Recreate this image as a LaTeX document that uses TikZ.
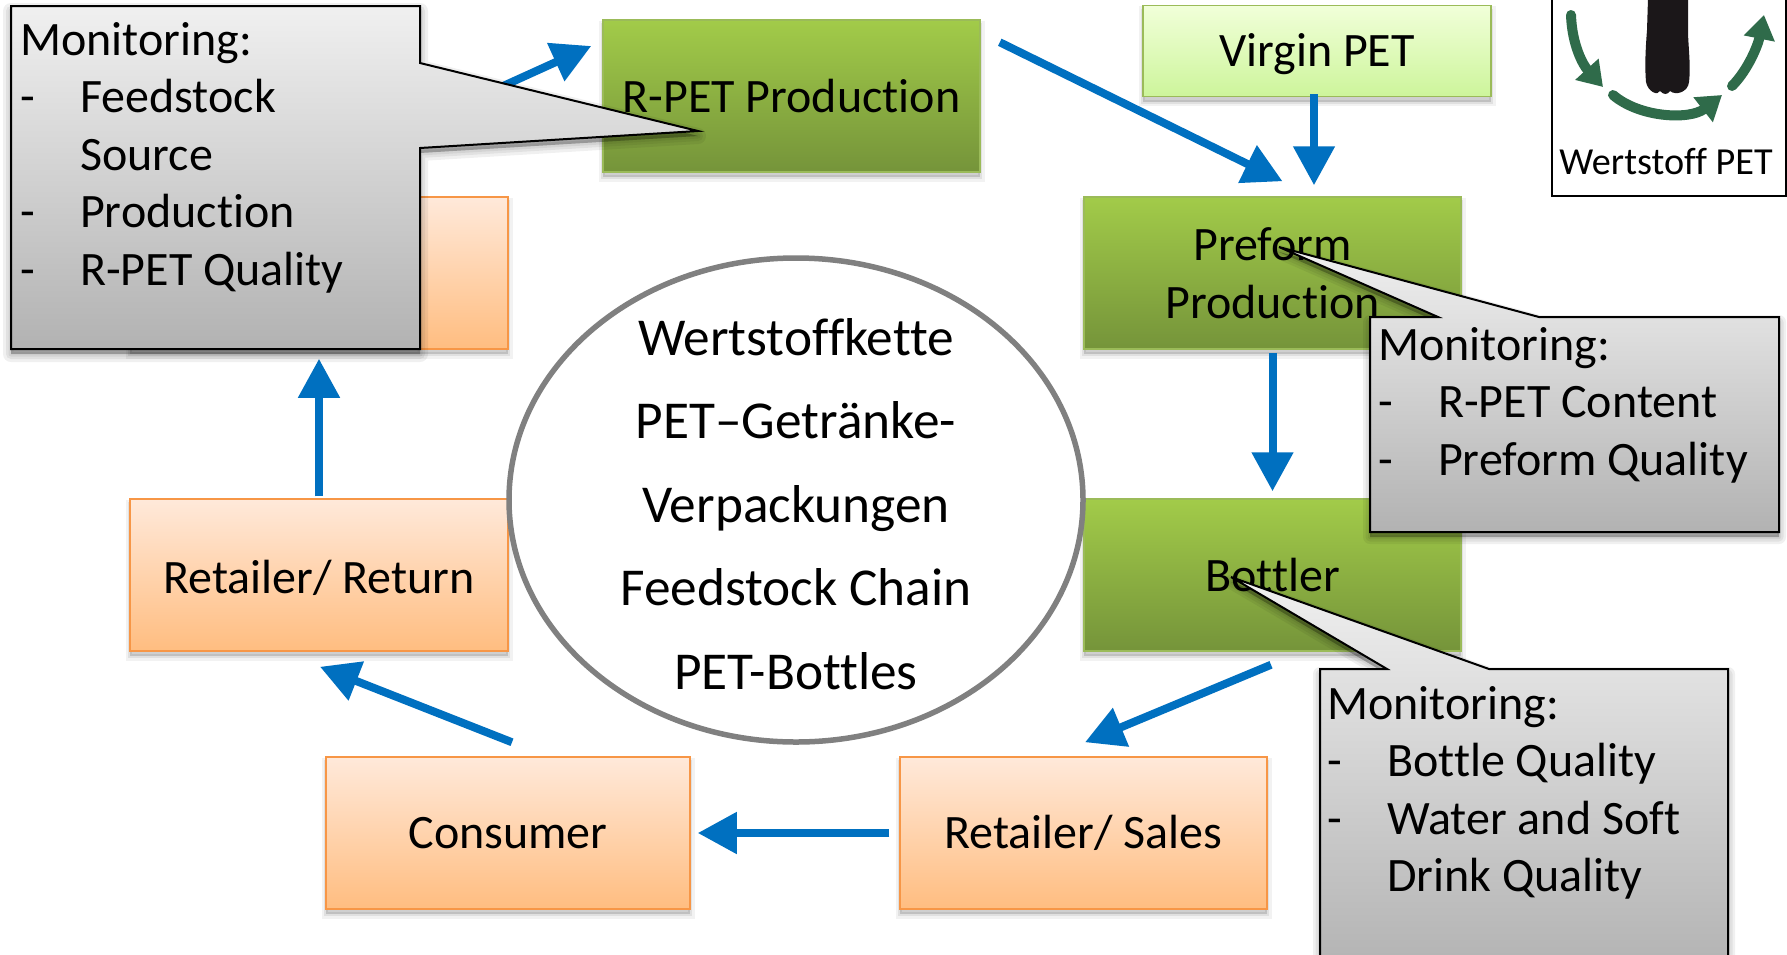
\documentclass[tikz,border=0pt]{standalone}
\usepackage{fontspec}
\setmainfont[Ligatures=NoCommon,Contextuals=NoAlternate]{Carlito}
\usetikzlibrary{arrows.meta,shapes.geometric}
\definecolor{flowblue}{HTML}{0070C0}
\definecolor{logogreen}{HTML}{2F6B4A}
\definecolor{logoblack}{HTML}{1B1719}
\definecolor{greenedge}{HTML}{9BBB59}
\definecolor{orangeedge}{HTML}{F79646}
\definecolor{greentop}{HTML}{A2CB49}\definecolor{greenbot}{HTML}{75943A}
\definecolor{lighttop}{HTML}{F1FFD9}\definecolor{lightbot}{HTML}{CDF59B}
\definecolor{orangetop}{HTML}{FFE9DA}\definecolor{orangebot}{HTML}{FFBD80}
\definecolor{graytop}{HTML}{F0F0F0}\definecolor{graybot}{HTML}{B2B2B2}
\newcommand{\dashitem}[1]{\makebox[60pt][l]{-}#1}
\tikzset{
  softshadow/.style={
    preaction={draw=black,fill=black,draw opacity=.05,fill opacity=.08,line width=9pt,transform canvas={yshift=-5pt}},
    preaction={draw=black,fill=black,draw opacity=.07,fill opacity=.07,line width=4pt,transform canvas={yshift=-5pt}}},
  basebox/.style={rectangle,inner sep=0pt,align=center,font=\fontsize{48pt}{58pt}\selectfont,line width=1.5pt,softshadow},
  greenbox/.style={basebox,draw=greenedge,top color=greentop,bottom color=greenbot,minimum width=377pt,minimum height=152pt},
  lightbox/.style={basebox,draw=greenedge,top color=lighttop,bottom color=lightbot,minimum width=348pt,minimum height=91pt},
  orangebox/.style={basebox,draw=orangeedge,top color=orangetop,bottom color=orangebot,minimum height=152pt},
  calloutbody/.style={draw=black,line width=2pt,top color=graytop,bottom color=graybot},
  calloutshadow/.style={draw=black,fill=black,draw opacity=.06,fill opacity=.1,line width=#1,line join=round},
  callouttext/.style={inner sep=0pt,align=left,anchor=north west,font=\fontsize{48pt}{57.5pt}\selectfont},
  flow/.style={draw=flowblue,line width=8pt,-{Triangle[length=39pt,width=40pt]}},
  logoarrow/.style={draw=logogreen,line width=10pt,line cap=round,-{Triangle[length=24pt,width=30pt]}},
  hub/.style={ellipse,draw=black!50,line width=5.5pt,fill=white,inner sep=0pt,minimum width=574pt,minimum height=484pt},
  hubtext/.style={inner sep=0pt,align=center,font=\fontsize{53.3pt}{83.4pt}\selectfont}
}
\begin{document}
\begin{tikzpicture}[x=1pt,y=-1pt]
\clip (0,0) rectangle (1787,954);
\fill[white] (0,0) rectangle (1787,954);
% boxes
\node[greenbox] (rpet) at (791.5,96) {R-PET Production};
\node[lightbox] (virgin) at (1317,51) {\raisebox{-15.5pt}[0pt][0pt]{Virgin PET}};
\node[greenbox] (pre) at (1272.5,273) {Preform\\Production};
\node[greenbox] (bot) at (1272.5,575) {Bottler};
\node[orangebox,minimum width=367pt] (sales) at (1083.5,833) {Retailer/ Sales};
\node[orangebox,minimum width=364pt] (cons) at (508,833) {Consumer};
\node[orangebox,minimum width=378pt] (ret) at (319,575) {\raisebox{-18pt}[0pt][0pt]{Retailer/ Return}};
\node[orangebox,minimum width=378pt] (hidden) at (319,273) {};
% hub
\node[hub] (hubshape) at (796,500) {};
\node[hubtext] (hublabel) at (796,504) {Wertstoffkette\\PET–Getränke-\\Verpackungen\\Feedstock Chain\\PET-Bottles};
% connectors
\draw[flow] ([shift={(-15,-106)}]hidden.north east) -- ([shift={(-11,-50)}]rpet.west);
\draw[flow] ([shift={(19,23)}]rpet.north east) -- ([shift={(10,-15)}]pre.north);
\draw[flow] ([shift={(-3,-3)}]virgin.south) -- ([shift={(41.5,-11)}]pre.north);
\draw[flow] ([shift={(0,3)}]pre.south) -- ([shift={(0,-7)}]bot.north);
\draw[flow] ([shift={(-1.5,13)}]bot.south) -- ([shift={(1.5,-14)}]sales.north);
\draw[flow] ([shift={(-10,0)}]sales.west) -- ([shift={(7,0)}]cons.east);
\draw[flow] ([shift={(4,-14)}]cons.north) -- ([shift={(1,15)}]ret.south);
\draw[flow] ([shift={(0,-2)}]ret.north) -- ([shift={(0,9)}]hidden.south);
% logo
\draw[draw=black,line width=2pt,fill=white] (1552,-10) rectangle (1786,196);
\fill[fill=logoblack] (1648,-2) -- (1647,30) .. controls (1645,55) and (1645,70) .. (1646,82)
  .. controls (1648,92) and (1658,96) .. (1660,91) .. controls (1664,95) and (1667,95) .. (1670,91)
  .. controls (1676,96) and (1688,92) .. (1689,82) .. controls (1691,65) and (1688,45) .. (1688,30) -- (1688,-2) -- cycle;
\draw[logoarrow] (1571,15) .. controls (1572,45) and (1583,65) .. (1603,87);
\draw[logoarrow] (1613,95) .. controls (1640,118) and (1690,120) .. (1722,95);
\draw[logoarrow] (1732,86) .. controls (1748,70) and (1758,45) .. (1764,15);
\node[inner sep=0pt,anchor=base,font=\fontsize{38.2pt}{40pt}\selectfont] (logotext) at (1666,174) {Wertstoff PET};
% callout 1
\foreach \w in {16pt,10pt,5pt}{
  \draw[calloutshadow=\w] (11,11) -- (420,11) -- (420,68) -- (698,136) -- (420,153) -- (420,354) -- (11,354) -- cycle;}
\draw[calloutbody] (11,6) -- (420,6) -- (420,63) -- (698,131) -- (420,148) -- (420,349) -- (11,349) -- cycle;
\node[callouttext] (c1) at (20,22) {Monitoring:\\\dashitem{Feedstock}\\\hspace*{60pt}Source\\\dashitem{Production}\\\dashitem{R-PET Quality}};
% callout 2
\foreach \w in {14pt,9pt,4pt}{
  \draw[calloutshadow=\w] (1279,252) -- (1539,322) -- (1779,322) -- (1779,537) -- (1370,537) -- (1370,322) -- (1438,322) -- cycle;}
\draw[calloutbody] (1279,247) -- (1539,317) -- (1779,317) -- (1779,532) -- (1370,532) -- (1370,317) -- (1438,317) -- cycle;
\node[callouttext] (c2) at (1378,327) {Monitoring:\\\dashitem{R-PET Content}\\\dashitem{Preform Quality}};
% callout 3
\foreach \w in {14pt,9pt,4pt}{
  \draw[calloutshadow=\w] (1231,582) -- (1489,674) -- (1728,674) -- (1728,975) -- (1320,975) -- (1320,674) -- (1387,674) -- cycle;}
\draw[calloutbody] (1231,577) -- (1489,669) -- (1728,669) -- (1728,975) -- (1320,975) -- (1320,669) -- (1387,669) -- cycle;
\node[callouttext] (c3) at (1327,686) {Monitoring:\\\dashitem{Bottle Quality}\\\dashitem{Water and Soft}\\\hspace*{60pt}Drink Quality};
\end{tikzpicture}
\end{document}
